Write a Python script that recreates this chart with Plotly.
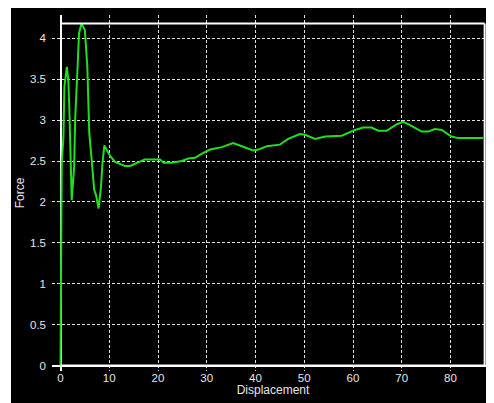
import plotly.graph_objects as go

# Data
displacement = [0.0, 0.1, 0.25, 0.6, 0.8, 1.3, 1.6, 1.8, 2.1, 2.3, 2.8, 3.0, 3.5, 3.8, 4.3, 5.0, 5.5, 5.9, 6.4, 6.9, 7.3, 7.8, 8.3, 8.6, 9.0,
                10.2, 11.2, 13.2, 14.3, 16.0, 17.3, 20.4, 21.1, 22.8, 24.9, 26.2, 27.6, 29.0, 30.7, 33.1, 35.4,
                37.2, 39.5, 40.6, 42.3, 45.0, 46.7, 49.1, 50.2, 52.2, 54.3, 57.7, 59.4, 60.4, 62.1, 63.8, 65.2,
                66.9, 69.0, 70.3, 71.3, 74.1, 75.4, 76.8, 78.2, 80.2, 81.6, 86.7]
force = [0.0, 1.29, 2.47, 2.79, 3.41, 3.65, 3.49, 3.16, 2.6, 2.02, 2.43, 3.0, 3.65, 4.06, 4.18, 4.1, 3.65, 2.84, 2.51, 2.15, 2.08, 1.92, 2.18, 2.47, 2.69,
         2.56, 2.49, 2.44, 2.44, 2.48, 2.52, 2.52, 2.48, 2.48, 2.50, 2.53, 2.54, 2.59, 2.64, 2.67, 2.72,
         2.68, 2.63, 2.64, 2.68, 2.70, 2.77, 2.83, 2.82, 2.77, 2.80, 2.81, 2.86, 2.88, 2.91, 2.91, 2.87,
         2.87, 2.95, 2.98, 2.95, 2.86, 2.86, 2.89, 2.88, 2.80, 2.78, 2.78]
x_ticks = [0, 10, 20, 30, 40, 50, 60, 70, 80]
y_ticks = [0, 0.5, 1, 1.5, 2, 2.5, 3, 3.5, 4]
y_tick_labels = ["0", "0.5", "1", "1.5", "2", "2.5", "3", "3.5", "4"]
x_max = 87.0
y_max = 4.18

# page body has an 8px default margin, so the figure is 8px smaller
W, H = 486, 395
ml, mr, mt, mb = 44, 0, 7, 32
pw = W - ml - mr
ph = H - mt - mb

fig = go.Figure()
fig.add_trace(go.Scatter(x=displacement, y=force, mode="lines",
                         line=dict(color="#1ee01e", width=2), showlegend=False))

font = dict(family="Liberation Sans, Arial, sans-serif", size=11.5, color="#e6e6e6")
title_font = dict(family="Liberation Sans, Arial, sans-serif", size=12, color="#e6e6e6")

fig.update_layout(
    width=W, height=H,
    margin=dict(l=ml, r=mr, t=mt, b=mb, pad=0),
    paper_bgcolor="black", plot_bgcolor="black",
    font=font,
    xaxis=dict(range=[-1.744, 88.92], tickvals=x_ticks, ticktext=[str(v) for v in x_ticks],
               showgrid=True, gridcolor="#e0e0e0", gridwidth=1, griddash="3px,2px",
               zeroline=True, zerolinecolor="white", zerolinewidth=1.5,
               showline=False, ticks="", tickfont=font, ticklabelstandoff=-2,
               title=dict(text="Displacement", font=title_font, standoff=0)),
    yaxis=dict(range=[-0.067, 4.285], tickvals=y_ticks, ticktext=y_tick_labels,
               showgrid=True, gridcolor="#e0e0e0", gridwidth=1, griddash="3px,2px",
               zeroline=True, zerolinecolor="white", zerolinewidth=1.5,
               showline=False, ticks="", tickfont=font, ticklabelstandoff=5,
               title=dict(text="Force", font=title_font, standoff=2)),
    shapes=[
        # white frame edges
        dict(type="line", xref="x", yref="y", x0=0, x1=x_max, y0=y_max, y1=y_max,
             line=dict(color="white", width=2)),
        dict(type="line", xref="x", yref="y", x0=x_max, x1=x_max, y0=0, y1=y_max,
             line=dict(color="white", width=2)),
        dict(type="line", xref="x", yref="y", x0=0, x1=x_max, y0=0, y1=0,
             line=dict(color="white", width=2)),
        # extra white strip on the left
        dict(type="rect", xref="paper", yref="paper", layer="below",
             x0=-ml / pw - 0.01, x1=(3 - ml) / pw, y0=-mb / ph - 0.01, y1=(H - mb) / ph + 0.05,
             fillcolor="white", line=dict(width=0)),
    ],
)

fig.write_html("out.html")
